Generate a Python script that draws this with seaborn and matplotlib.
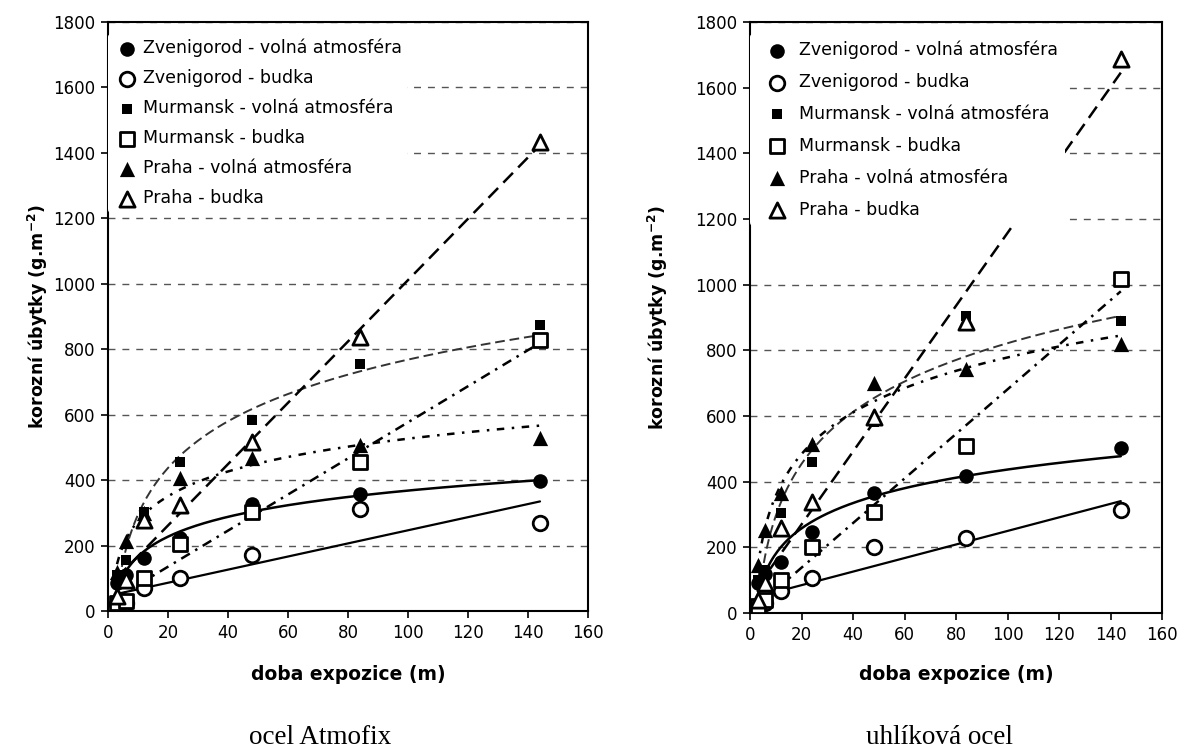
import matplotlib
matplotlib.use('Agg')
import matplotlib.pyplot as plt
import seaborn as sns
import numpy as np
import pandas as pd

# exposure time (months)
months = [3, 6, 12, 24, 48, 84, 144]

# ocel Atmofix
atm_zv_open = [85, 110, 163, 223, 328, 358, 398]
atm_zv_box = [20, 25, 70, 100, 170, 312, 270]
atm_mu_open = [110, 155, 302, 454, 585, 755, 875]
atm_mu_box = [25, 30, 102, 205, 302, 454, 828]
atm_pr_open = [120, 215, 300, 407, 468, 508, 530]
atm_pr_box = [45, 95, 278, 325, 515, 836, 1432]

# uhlikova ocel
uo_zv_open = [90, 120, 156, 246, 365, 418, 504]
uo_zv_box = [20, 30, 67, 107, 200, 229, 314]
uo_mu_open = [100, 130, 306, 461, 581, 906, 889]
uo_mu_box = [20, 40, 100, 202, 307, 510, 1016]
uo_pr_open = [145, 254, 367, 516, 700, 744, 818]
uo_pr_box = [40, 90, 260, 337, 597, 885, 1687]

labels = ['Zvenigorod - volná atmosféra', 'Zvenigorod - budka',
          'Murmansk - volná atmosféra', 'Murmansk - budka',
          'Praha - volná atmosféra', 'Praha - budka']

# marker, size, filled, trend type, linestyle, linewidth, line colour
styles = [
    ('o', 110, True, 'log', '-', 1.8, 'black'),
    ('o', 110, False, 'lin', '-', 1.6, 'black'),
    ('s', 45, True, 'log', (0, (5, 2.5)), 1.4, '#333333'),
    ('s', 100, False, 'lin', (0, (4, 2.5, 1, 2.5)), 1.8, 'black'),
    ('^', 120, True, 'log', (0, (3, 3, 1, 3)), 1.8, 'black'),
    ('^', 120, False, 'lin', (0, (5.5, 3)), 1.8, 'black'),
]


def trend(x, y, kind):
    # Excel-like trendlines: logarithmic or linear least squares
    x = np.asarray(x, float)
    y = np.asarray(y, float)
    xs = np.linspace(x.min(), x.max(), 200)
    if kind == 'log':
        k, q = np.polyfit(np.log(x), y, 1)
        return xs, k * np.log(xs) + q
    k, q = np.polyfit(x, y, 1)
    return xs, k * xs + q


def draw_panel(ax, series, legend_pitch, handle_len, pad):
    handles = []
    for vals, st in zip(series, styles):
        marker, size, filled, kind, ls, lw, lc = st
        xs, ys = trend(months, vals, kind)
        sns.lineplot(x=xs, y=ys, ax=ax, color=lc, linestyle=ls, linewidth=lw,
                     zorder=2, legend=False)
    for vals, lab, st in zip(series, labels, styles):
        marker, size, filled, kind, ls, lw, lc = st
        sns.scatterplot(x=months, y=vals, ax=ax, marker=marker, s=size,
                        color='black' if filled else 'white',
                        edgecolor='black', linewidth=0 if filled else 2.0,
                        zorder=3, legend=False)
        h = ax.collections[-1]
        h.set_label(lab)
        handles.append(h)

    ax.set_xlim(0, 160)
    ax.set_ylim(0, 1800)
    ax.set_xticks(range(0, 161, 20))
    ax.set_yticks(range(0, 1801, 200))
    ax.yaxis.grid(True, linestyle=(0, (5, 5)), color='#555555', linewidth=1.0, zorder=0)
    ax.xaxis.grid(False)
    ax.tick_params(direction='out', length=5, width=1.2, labelsize=12, pad=4,
                   left=True, bottom=True, colors='black')
    for sp in ax.spines.values():
        sp.set_color('black')
        sp.set_linewidth(1.5)
    ax.set_xlabel('doba expozice (m)', fontsize=13.5, fontweight='bold', color='black')
    ax.set_ylabel(r'korozní úbytky (g.m$^{\mathbf{-2}}$)', fontsize=12.5,
                  fontweight='bold', color='black')

    leg = ax.legend(handles=handles, loc='upper left', bbox_to_anchor=(0.0, 0.98),
                    borderaxespad=0, frameon=True, fontsize=12.5, handlelength=handle_len,
                    handletextpad=0.1, borderpad=pad, labelspacing=legend_pitch,
                    scatterpoints=1, labelcolor='black')
    leg.get_frame().set_facecolor('white')
    leg.get_frame().set_edgecolor('none')
    leg.get_frame().set_alpha(1)
    return ax


sns.set_theme(style='white')
plt.rcParams['font.family'] = ['DejaVu Sans']
plt.rcParams['mathtext.fontset'] = 'dejavusans'
plt.rcParams['text.color'] = 'black'

fig = plt.figure(figsize=(11.79, 7.51), dpi=100)
ax1 = fig.add_axes([108 / 1179, 140 / 751, 480 / 1179, 589 / 751])
ax2 = fig.add_axes([750 / 1179, 138 / 751, 412 / 1179, 591 / 751])

draw_panel(ax1, [atm_zv_open, atm_zv_box, atm_mu_open, atm_mu_box, atm_pr_open, atm_pr_box],
           0.69, 1.6, 0.3)
draw_panel(ax2, [uo_zv_open, uo_zv_box, uo_mu_open, uo_mu_box, uo_pr_open, uo_pr_box],
           0.80, 2.35, 0.4)

ax1.yaxis.set_label_coords((50 - 108) / 480, 0.5)
ax2.yaxis.set_label_coords((670 - 750) / 412, 0.5)
ax1.xaxis.set_label_coords(0.5, (611 - 665) / 589)
ax2.xaxis.set_label_coords(0.5, (613 - 665) / 591)

fig.text(320 / 1179, 1 - 737 / 751, 'ocel Atmofix', ha='center', va='center',
         fontsize=19.5, family='Liberation Serif')
fig.text(939 / 1179, 1 - 737 / 751, 'uhlíková ocel', ha='center', va='center',
         fontsize=19.5, family='Liberation Serif')

fig.savefig('out.png', dpi=100)
